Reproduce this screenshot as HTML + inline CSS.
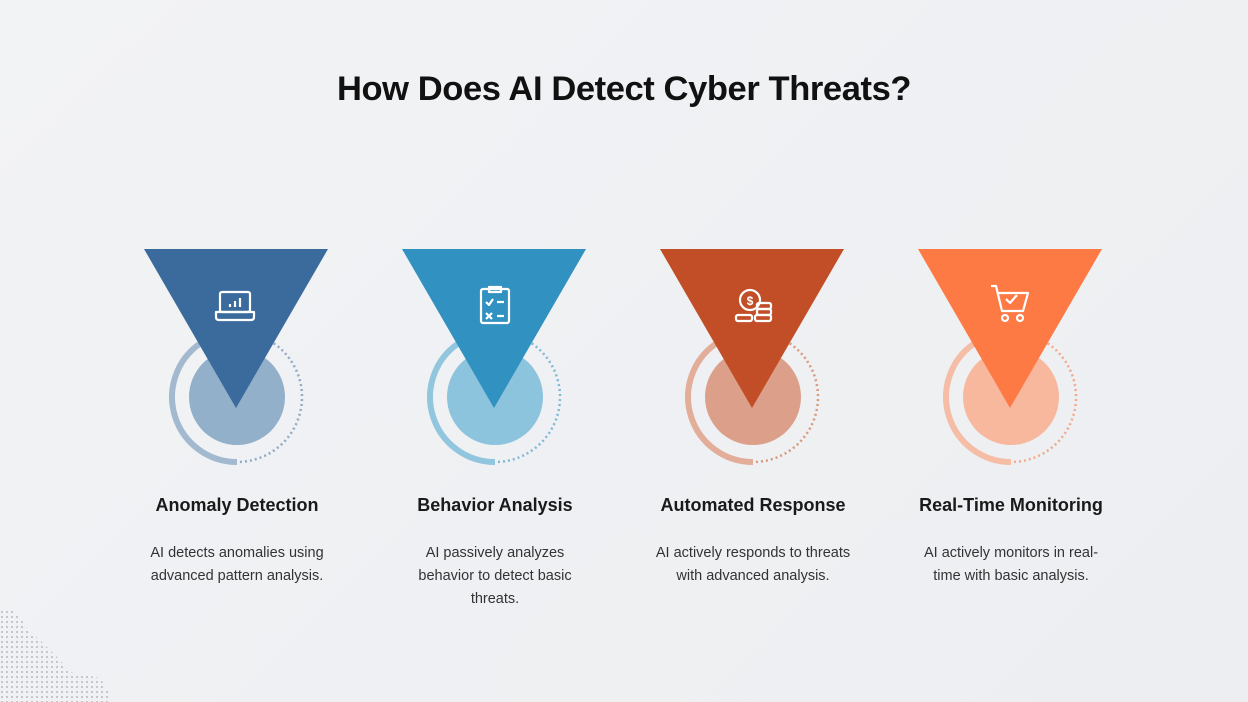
<!DOCTYPE html>
<html><head><meta charset="utf-8"><style>
html,body{margin:0;padding:0}
body{width:1248px;height:702px;overflow:hidden;background:linear-gradient(135deg,#f2f3f5,#eceef1);font-family:"Liberation Sans",Arial,sans-serif;position:relative}
h1{position:absolute;top:70px;left:0;width:1248px;text-align:center;margin:0;font-size:34.5px;font-weight:bold;color:#111;letter-spacing:-0.4px}
.t{position:absolute;top:495px;width:240px;text-align:center;font-weight:bold;font-size:18px;color:#1a1a1a}
.d{position:absolute;top:542px;width:200px;text-align:center;font-size:14.5px;line-height:23px;color:#333}
</style></head><body>
<h1>How Does AI Detect Cyber Threats?</h1>
<svg width="1248" height="702" style="position:absolute;left:0;top:0">
<defs>
<pattern id="dots" width="5" height="5" patternUnits="userSpaceOnUse"><rect x="1" y="1" width="2" height="2" fill="#c4c7cc"/></pattern>
</defs>
<path d="M0 608 L12 608 L22 620 L28 630 L40 640 L50 650 L60 660 L70 672 L100 678 L108 690 L108 702 L0 702Z" fill="url(#dots)"/>
<g transform="translate(237,397)">
<path d="M0 65 A65 65 0 0 1 -37.3 -53.2" fill="none" stroke="#a2b9cf" stroke-width="6"/>
<path d="M32.5 -56.3 A65 65 0 0 1 0 65" fill="none" stroke="#93aac4" stroke-width="2.5" stroke-dasharray="2 3"/>
<circle r="48" fill="#93b0cb"/>
<path d="M-93 -148 L91 -148 L-1 11Z" fill="#3a6b9c"/>
<g fill="none" stroke="#fff" stroke-width="2.2" stroke-linejoin="round">
<rect x="-17" y="-105" width="30" height="20" rx="2"/><path d="M-21 -85 H17 V-80 Q17 -77 14 -77 H-18 Q-21 -77 -21 -80Z"/>
<path d="M-7 -90 V-93 M-2 -90 V-96 M3 -90 V-99"/></g>
</g>
<g transform="translate(495,397)">
<path d="M0 65 A65 65 0 0 1 -37.3 -53.2" fill="none" stroke="#92c6df" stroke-width="6"/>
<path d="M32.5 -56.3 A65 65 0 0 1 0 65" fill="none" stroke="#7fb9d6" stroke-width="2.5" stroke-dasharray="2 3"/>
<circle r="48" fill="#8cc3dd"/>
<path d="M-93 -148 L91 -148 L-1 11Z" fill="#3191c1"/>
<g fill="none" stroke="#fff" stroke-width="2.2" stroke-linejoin="round">
<rect x="-14" y="-108" width="28" height="34" rx="2"/><path d="M-6 -110 H6 V-105 H-6Z"/>
<path d="M-9 -95 L-6 -92 L-2 -98 M2 -95 H9 M-9 -84 L-3 -78 M-3 -84 L-9 -78 M2 -81 H9"/></g>
</g>
<g transform="translate(753,397)">
<path d="M0 65 A65 65 0 0 1 -37.3 -53.2" fill="none" stroke="#e2ad99" stroke-width="6"/>
<path d="M32.5 -56.3 A65 65 0 0 1 0 65" fill="none" stroke="#d9997f" stroke-width="2.5" stroke-dasharray="2 3"/>
<circle r="48" fill="#dca08a"/>
<path d="M-93 -148 L91 -148 L-1 11Z" fill="#c24e27"/>
<g fill="none" stroke="#fff" stroke-width="2.2">
<circle cx="-3" cy="-97" r="10"/><rect x="-17" y="-82" width="16" height="6" rx="2"/><rect x="2" y="-82" width="16" height="6" rx="2"/><rect x="4" y="-88" width="14" height="6" rx="2"/><rect x="4" y="-94" width="14" height="6" rx="2"/></g>
<text x="-3" y="-92" font-size="12" font-weight="bold" fill="#fff" text-anchor="middle" font-family="Liberation Sans">$</text>
</g>
<g transform="translate(1011,397)">
<path d="M0 65 A65 65 0 0 1 -37.3 -53.2" fill="none" stroke="#f5bca6" stroke-width="6"/>
<path d="M32.5 -56.3 A65 65 0 0 1 0 65" fill="none" stroke="#f2a98c" stroke-width="2.5" stroke-dasharray="2 3"/>
<circle r="48" fill="#f7b89e"/>
<path d="M-93 -148 L91 -148 L-1 11Z" fill="#fe7a45"/>
<g fill="none" stroke="#fff" stroke-width="2.2" stroke-linejoin="round">
<path d="M-20 -111 H-15 L-9 -86 H12 L17 -104 H-13"/><path d="M-5 -98 L-1 -94 L6 -102"/>
<circle cx="-6" cy="-79" r="3"/><circle cx="9" cy="-79" r="3"/></g>
</g>
</svg>
<div class="t" style="left:117px">Anomaly Detection</div>
<div class="t" style="left:375px">Behavior Analysis</div>
<div class="t" style="left:633px">Automated Response</div>
<div class="t" style="left:891px">Real-Time Monitoring</div>
<div class="d" style="left:137px">AI detects anomalies using advanced pattern analysis.</div>
<div class="d" style="left:410px;width:170px">AI passively analyzes behavior to detect basic threats.</div>
<div class="d" style="left:653px">AI actively responds to threats with advanced analysis.</div>
<div class="d" style="left:911px">AI actively monitors in real-time with basic analysis.</div>
</body></html>
